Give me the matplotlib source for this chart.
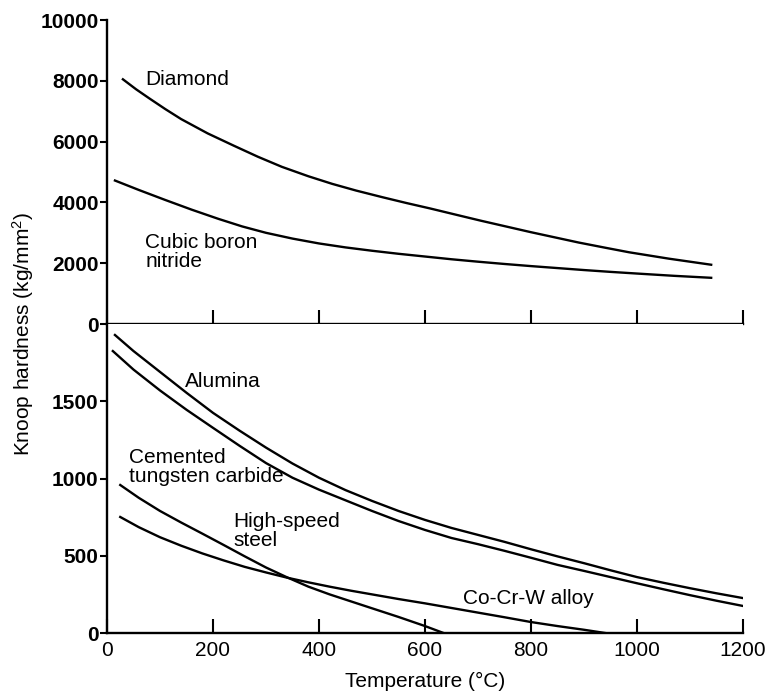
import matplotlib
matplotlib.use("Agg")
import matplotlib.pyplot as plt

# --- data (temperature in degC, hardness in kg/mm2) ---
diamond_t = [30, 55, 80, 110, 140, 190, 240, 285, 330, 380, 425, 470, 520, 565, 610,
             655, 705, 750, 800, 845, 890, 940, 985, 1060, 1140]
diamond_h = [8050, 7720, 7420, 7070, 6740, 6270, 5860, 5500, 5170, 4860, 4610, 4390, 4170, 3980, 3800,
             3610, 3400, 3220, 3020, 2850, 2680, 2510, 2360, 2150, 1950]

cbn_t = [15, 60, 110, 160, 210, 255, 300, 350, 400, 450, 500, 550, 600, 650, 700, 750,
         800, 850, 900, 950, 1000, 1070, 1140]
cbn_h = [4720, 4410, 4080, 3760, 3460, 3210, 3000, 2810, 2650, 2520, 2410, 2310, 2220, 2130, 2050, 1975,
         1905, 1840, 1775, 1715, 1660, 1585, 1520]

alumina_t = [15, 50, 100, 150, 200, 250, 300, 350, 400, 450, 500, 550, 600, 650, 700, 750,
             800, 850, 900, 950, 1000, 1050, 1100, 1150, 1200]
alumina_h = [1929, 1825, 1690, 1555, 1425, 1310, 1200, 1097, 1005, 925, 855, 790, 732, 680, 635, 590,
             542, 496, 452, 406, 362, 325, 290, 257, 226]

carbide_t = [11, 50, 100, 150, 200, 250, 300, 350, 400, 450, 500, 550, 600, 650, 700, 750,
             800, 850, 900, 950, 1000, 1050, 1100, 1150, 1200]
carbide_h = [1825, 1705, 1570, 1445, 1328, 1212, 1100, 1005, 928, 859, 790, 725, 667, 615, 575, 532,
             487, 441, 402, 362, 322, 283, 245, 209, 175]

hss_t = [25, 60, 100, 140, 180, 220, 260, 300, 340, 380, 420, 460, 500, 550, 600, 635]
hss_h = [958, 875, 790, 715, 643, 570, 496, 424, 360, 300, 250, 205, 160, 104, 45, 0]

cocrw_t = [25, 60, 100, 140, 180, 220, 260, 300, 340, 380, 420, 460, 500, 550, 600, 650,
           700, 750, 800, 850, 900, 940]
cocrw_h = [751, 685, 620, 565, 515, 470, 428, 392, 358, 328, 300, 274, 250, 220, 192, 162,
           132, 102, 71, 45, 21, 0]

x_ticks = [0, 200, 400, 600, 800, 1000, 1200]
top_yticks = [0, 2000, 4000, 6000, 8000, 10000]
bottom_yticks = [0, 500, 1000, 1500]

# --- style ---
plt.rcParams['font.family'] = ['Liberation Sans', 'DejaVu Sans']
plt.rcParams['mathtext.fontset'] = 'custom'
plt.rcParams['mathtext.rm'] = 'Liberation Sans'
plt.rcParams['mathtext.it'] = 'Liberation Sans:italic'
LW = 1.7
FS = 15

fig = plt.figure(figsize=(7.72, 6.95), dpi=100)
ax_top = fig.add_axes([0.1386, 0.5338, 0.8238, 0.4374])
ax_bot = fig.add_axes([0.1386, 0.0892, 0.8238, 0.4446])

for ax in (ax_top, ax_bot):
    ax.set_xlim(0, 1200)
    ax.spines['right'].set_visible(False)
    ax.spines['top'].set_visible(False)
    ax.spines['left'].set_linewidth(1.7)
    ax.spines['bottom'].set_linewidth(1.7)
    ax.set_xticks(x_ticks)
    ax.tick_params(axis='x', direction='in', length=10, width=1.5)
    ax.tick_params(axis='y', direction='out', length=5, width=1.5, pad=1)

# top panel: diamond and cBN
ax_top.plot(diamond_t, diamond_h, color='black', lw=LW)
ax_top.plot(cbn_t, cbn_h, color='black', lw=LW)
ax_top.set_ylim(0, 10000)
ax_top.set_yticks(top_yticks)
ax_top.set_yticklabels([str(v) for v in top_yticks], fontsize=FS, fontweight='bold')
ax_top.tick_params(axis='x', labelbottom=False)
ax_top.text(72, 8030, "Diamond", fontsize=FS, va='center', ha='left')
ax_top.text(72, 2370, "Cubic boron\nnitride", fontsize=FS, va='center', ha='left',
            linespacing=1.05)

# bottom panel: the rest
ax_bot.plot(alumina_t, alumina_h, color='black', lw=LW)
ax_bot.plot(carbide_t, carbide_h, color='black', lw=LW)
ax_bot.plot(hss_t, hss_h, color='black', lw=LW)
ax_bot.plot(cocrw_t, cocrw_h, color='black', lw=LW)
ax_bot.set_ylim(0, 2000)
ax_bot.set_yticks(bottom_yticks)
ax_bot.set_yticklabels([str(v) for v in bottom_yticks], fontsize=FS, fontweight='bold')
ax_bot.set_xticklabels([str(v) for v in x_ticks], fontsize=FS)
ax_bot.tick_params(axis='x', pad=6)
ax_bot.text(147, 1625, "Alumina", fontsize=FS, va='center', ha='left')
ax_bot.text(42, 1074, "Cemented\ntungsten carbide", fontsize=FS, va='center', ha='left',
            linespacing=1.05)
ax_bot.text(238, 660, "High-speed\nsteel", fontsize=FS, va='center', ha='left',
            linespacing=1.0)
ax_bot.text(672, 226, "Co-Cr-W alloy", fontsize=FS, va='center', ha='left')

ax_bot.set_xlabel("Temperature (°C)", fontsize=FS, labelpad=8)
fig.text(0.03, 0.52, "Knoop hardness (kg/mm$^2$)", fontsize=FS, rotation=90,
         va='center', ha='center')

fig.savefig("out.png", dpi=100)
